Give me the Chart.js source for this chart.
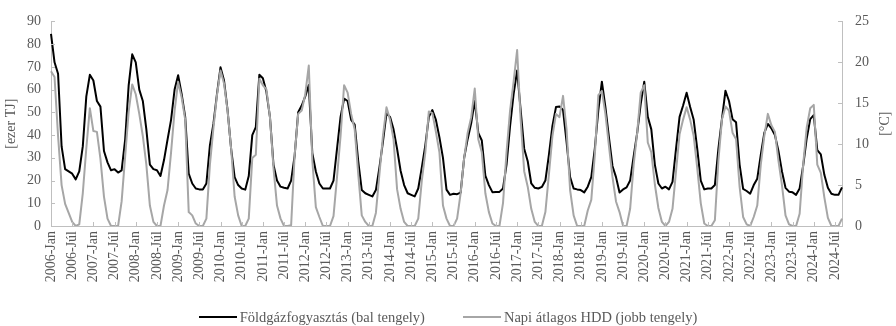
<!DOCTYPE html>
<html>
<head>
<meta charset="utf-8">
<script src="https://cdn.jsdelivr.net/npm/chart.js@4.4.1/dist/chart.umd.min.js"></script>
<style>
  html, body { margin: 0; padding: 0; background: #fff; }
  #wrap { position: relative; width: 896px; height: 326px; }
  #legend {
    position: absolute; left: 0; top: 308px; width: 896px; height: 18px;
    display: flex; justify-content: center; gap: 38px;
    font: 14.5px 'Liberation Serif', 'Times New Roman', serif; line-height: 18px;
    color: #595959; white-space: nowrap;
  }
  #legend .item { display: flex; align-items: center; }
  #legend .vonal { display: inline-block; width: 38px; height: 2px; margin-right: 3px; }
</style>
</head>
<body>
<div id="wrap">
  <canvas id="chart" width="896" height="326"></canvas>
  <div id="legend"></div>
</div>
<script>
// Havi adatok 2006-Jan .. 2024-Szep
const evek = [2006, 2007, 2008, 2009, 2010, 2011, 2012, 2013, 2014, 2015,
              2016, 2017, 2018, 2019, 2020, 2021, 2022, 2023, 2024];
const honapok = ['Jan', 'Feb', 'Már', 'Ápr', 'Máj', 'Jún', 'Júl', 'Aug', 'Szep', 'Okt', 'Nov', 'Dec'];
const utolsoHonapok = 9; // 2024-ben szeptemberig

// Földgázfogyasztás [ezer TJ] (bal tengely)
const gazFogyasztas = [
  84.5, 72, 67, 35, 25, 24, 23, 20.5, 24, 35, 57, 66.5,          // 2006
  64, 55, 52.5, 33, 28, 24.5, 25, 23.5, 24.5, 38, 62, 75.5,        // 2007
  72, 60, 55, 42.5, 27, 25, 24.5, 22, 29, 38, 46.7, 60,            // 2008
  66.3, 58, 48, 23, 18.7, 16.5, 16.1, 16.1, 18.7, 35.5, 45, 58,    // 2009
  69.8, 64, 51, 34, 21.5, 18, 16.5, 16, 22, 40, 43.5, 66.5,        // 2010
  65, 59, 48, 27, 20, 17.3, 16.8, 16.5, 20, 31, 50, 53,            // 2011
  57, 62, 32, 24, 18.7, 16.5, 16.5, 16.5, 20, 34, 48, 56,          // 2012
  55, 46.7, 44.6, 28.5, 15.8, 14.4, 13.7, 13, 15.8, 25.7, 37, 49.5,// 2013
  48, 42.5, 34, 24.3, 18, 14.4, 13.7, 13, 16.5, 25.7, 35.5, 48,    // 2014
  51, 46.7, 39, 30, 16, 13.7, 14.2, 14, 14.7, 30, 38.3, 45.3,      // 2015
  55, 41, 37.6, 22.2, 18, 14.9, 15, 15, 16.5, 27, 43.9, 58,        // 2016
  68.4, 51, 34, 28.5, 18.7, 16.8, 16.5, 17.2, 20, 31.3, 44, 52.3,  // 2017
  52.6, 51, 37, 21.5, 16.5, 16.1, 15.8, 14.8, 17.3, 21.5, 34, 51,  // 2018
  63.5, 52.3, 39, 26.4, 21.5, 14.7, 16.1, 17, 20, 30.6, 41, 53.7,  // 2019
  63.5, 48, 42.5, 27, 18.7, 16.5, 17.3, 16.1, 19.4, 34, 48, 53,    // 2020
  58.6, 52.3, 46.7, 34, 20, 16.1, 16.5, 16.5, 18, 34, 47, 59.5,    // 2021
  55, 47, 45.6, 27, 16.3, 15.4, 14.2, 18, 20.8, 31.3, 41, 44.9,    // 2022
  43, 40, 33, 24, 16.8, 15.1, 14.8, 13.7, 16.5, 26.5, 38.5, 47,    // 2023
  48.8, 33.4, 31.5, 22.5, 16.8, 14.2, 13.7, 13.7, 17               // 2024
];

// Napi átlagos HDD [°C] (jobb tengely)
const napiHdd = [
  18.9, 18.2, 11, 5, 2.7, 1.6, 0.5, 0, 0.2, 4, 9.5, 14.4,          // 2006
  11.6, 11.5, 8.2, 3.6, 0.9, 0, 0, 0, 3, 8.5, 14, 17.3,            // 2007
  16.1, 13.7, 11, 7.5, 2.5, 0.5, 0, 0, 2.5, 4.4, 9, 14.1,          // 2008
  17.6, 15.7, 13, 1.7, 1.3, 0.3, 0, 0, 0.9, 7.5, 12, 16,           // 2009
  19, 17.4, 14.1, 9.5, 3.6, 1.3, 0, 0, 0.9, 8.3, 8.7, 18,          // 2010
  17.2, 16.7, 13.3, 7.1, 2.5, 0.9, 0, 0, 0.1, 8.7, 13.7, 14.1,     // 2011
  16.1, 19.6, 8, 2.3, 1.1, 0, 0, 0, 1.2, 6, 11, 17.2,              // 2012
  16.3, 13.7, 11.8, 6.4, 1.3, 0.5, 0, 0, 1.6, 6.3, 11, 14.5,       // 2013
  13, 10.6, 4.5, 2.1, 0.5, 0, 0, 0, 0.9, 5.5, 9, 14,               // 2014
  13.8, 11.5, 9, 2.5, 0.9, 0, 0, 0.9, 4, 8.3, 11.4, 13.3,          // 2015
  16.8, 10.6, 9, 4, 1.7, 0.3, 0, 0, 2.8, 9, 14.1, 17.6,            // 2016
  21.5, 13, 6.7, 4.8, 2.1, 0.5, 0, 0, 1.7, 6.3, 11, 13.7,          // 2017
  13.3, 15.9, 11.8, 4.4, 1.3, 0, 0, 0, 1.9, 3.2, 8.7, 16,          // 2018
  16.5, 13.7, 9.8, 6, 3, 1.7, 0, 0, 2.1, 7.5, 11.4, 16.3,          // 2019
  17.2, 10.2, 9, 5.1, 2.2, 0.5, 0, 0.5, 2.1, 6.7, 11.2, 13,        // 2020
  14.5, 13, 11, 7.1, 2.8, 0.3, 0, 0, 0.7, 8, 13, 14.6,             // 2021
  14.1, 11.4, 10.6, 4.8, 1.1, 0.2, 0, 1.1, 2.5, 7.5, 11, 13.7,     // 2022
  12.3, 11.5, 8, 5, 1.3, 0.2, 0, 0, 1.5, 7.5, 12, 14.4,            // 2023
  14.8, 7.5, 6.5, 3.5, 1, 0, 0, 0, 0.9                             // 2024
];

const balTengelyTicks = [0, 10, 20, 30, 40, 50, 60, 70, 80, 90];
const jobbTengelyTicks = [0, 5, 10, 15, 20, 25];

// kategóriák: "2006-Jan", "2006-Feb", ...
const cimkek = [];
evek.forEach((ev, i) => {
  const db = i === evek.length - 1 ? utolsoHonapok : 12;
  for (let h = 0; h < db; h++) cimkek.push(ev + '-' + honapok[h]);
});

const betu = "'Liberation Serif', 'Times New Roman', serif";
const szurke = '#595959';
const tengelySzin = '#bfbfbf';

// befelé álló osztásjelek + jobb tengely címe (Excel-szerűen alulról felfelé)
const osztasok = {
  id: 'osztasok',
  afterDraw(chart) {
    const { ctx, chartArea: a, scales } = chart;
    ctx.save();
    ctx.strokeStyle = tengelySzin;
    ctx.lineWidth = 1;
    ctx.beginPath();
    balTengelyTicks.forEach(v => {
      const py = Math.round(scales.y.getPixelForValue(v)) + 0.5;
      ctx.moveTo(a.left, py); ctx.lineTo(a.left + 4, py);
    });
    jobbTengelyTicks.forEach(v => {
      const py = Math.round(scales.y1.getPixelForValue(v)) + 0.5;
      ctx.moveTo(a.right, py); ctx.lineTo(a.right - 4, py);
    });
    cimkek.forEach((c, i) => {
      if (i % 6 !== 0) return;
      const px = Math.round(scales.x.getPixelForValue(i)) + 0.5;
      ctx.moveTo(px, a.bottom); ctx.lineTo(px, a.bottom - 4);
    });
    ctx.stroke();

    ctx.fillStyle = szurke;
    ctx.font = '14px ' + betu;
    ctx.textAlign = 'center';
    ctx.textBaseline = 'middle';
    ctx.translate(885, (a.top + a.bottom) / 2);
    ctx.rotate(-Math.PI / 2);
    ctx.fillText('[°C]', 0, 0);
    ctx.restore();
  }
};

// HTML jelmagyarázat a diagram adataiból
const htmlLegend = {
  id: 'htmlLegend',
  afterUpdate(chart) {
    const box = document.getElementById('legend');
    box.innerHTML = '';
    chart.data.datasets.forEach(ds => {
      const item = document.createElement('span');
      item.className = 'item';
      const vonal = document.createElement('span');
      vonal.className = 'vonal';
      vonal.style.background = ds.borderColor;
      item.appendChild(vonal);
      item.appendChild(document.createTextNode(ds.label));
      box.appendChild(item);
    });
  }
};

new Chart(document.getElementById('chart'), {
  type: 'line',
  data: {
    labels: cimkek,
    datasets: [
      {
        label: 'Földgázfogyasztás (bal tengely)',
        data: gazFogyasztas,
        borderColor: '#000000',
        borderWidth: 2,
        borderJoinStyle: 'round',
        pointRadius: 0,
        yAxisID: 'y',
        order: 1
      },
      {
        label: 'Napi átlagos HDD (jobb tengely)',
        data: napiHdd,
        borderColor: '#a6a6a6',
        borderWidth: 2,
        borderJoinStyle: 'round',
        pointRadius: 0,
        yAxisID: 'y1',
        order: 0
      }
    ]
  },
  options: {
    responsive: false,
    animation: false,
    layout: { padding: { top: 12, left: 0, right: 0, bottom: 0 } },
    plugins: {
      tooltip: { enabled: false },
      legend: { display: false }
    },
    scales: {
      x: {
        type: 'category',
        offset: false,
        grid: { display: false, drawTicks: false },
        border: { color: tengelySzin, width: 1 },
        ticks: {
          autoSkip: false,
          minRotation: 90,
          maxRotation: 90,
          padding: 5,
          color: szurke,
          font: { family: betu, size: 14 },
          callback: function (v, i) { return i % 6 === 0 ? cimkek[i] : null; }
        },
        afterFit: s => { s.height = 100; }
      },
      y: {
        position: 'left',
        min: 0,
        max: 90,
        grid: { display: false, drawTicks: false },
        border: { color: tengelySzin, width: 1 },
        ticks: { stepSize: 10, padding: 10, color: szurke, font: { family: betu, size: 14 } },
        title: { display: true, text: '[ezer TJ]', color: szurke, padding: { top: 3, bottom: 0 }, font: { family: betu, size: 14 } },
        afterFit: s => { s.width = 51; }
      },
      y1: {
        position: 'right',
        min: 0,
        max: 25,
        grid: { display: false, drawTicks: false },
        border: { color: tengelySzin, width: 1 },
        ticks: { stepSize: 5, padding: 13, color: szurke, font: { family: betu, size: 14 } },
        afterFit: s => { s.width = 54; }
      }
    }
  },
  plugins: [osztasok, htmlLegend]
});
</script>
</body>
</html>
